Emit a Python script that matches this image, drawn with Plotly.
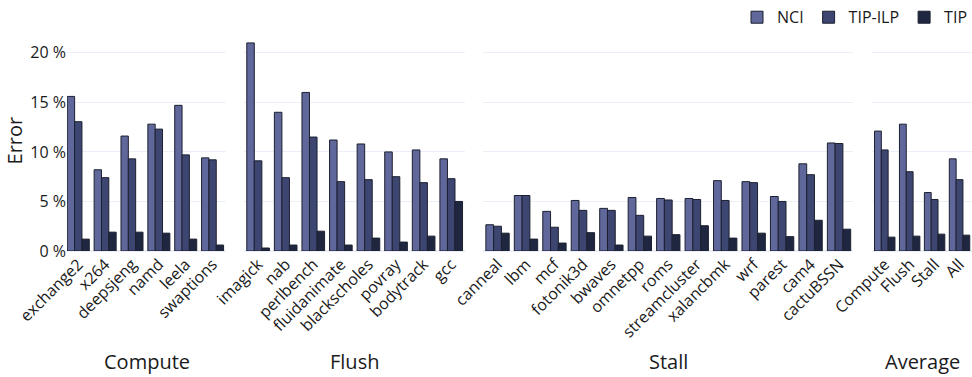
import plotly.graph_objects as go

# Benchmarks per group
compute_labels = ["exchange2", "x264", "deepsjeng", "namd", "leela", "swaptions"]
compute_nci = [15.6, 8.2, 11.6, 12.8, 14.7, 9.4]
compute_ilp = [13.05, 7.4, 9.3, 12.3, 9.7, 9.2]
compute_tip = [1.2, 1.9, 1.9, 1.8, 1.2, 0.6]

flush_labels = ["imagick", "nab", "perlbench", "fluidanimate", "blackscholes",
                "povray", "bodytrack", "gcc"]
flush_nci = [21.0, 14.0, 16.0, 11.2, 10.8, 10.0, 10.2, 9.3]
flush_ilp = [9.1, 7.4, 11.5, 7.0, 7.2, 7.5, 6.9, 7.3]
flush_tip = [0.3, 0.6, 2.0, 0.6, 1.3, 0.9, 1.5, 5.0]

stall_labels = ["canneal", "lbm", "mcf", "fotonik3d", "bwaves", "omnetpp", "roms",
                "streamcluster", "xalancbmk", "wrf", "parest", "cam4", "cactuBSSN"]
stall_nci = [2.65, 5.6, 4.0, 5.1, 4.3, 5.4, 5.3, 5.3, 7.1, 7.0, 5.5, 8.8, 10.9]
stall_ilp = [2.5, 5.6, 2.4, 4.1, 4.1, 3.6, 5.15, 5.2, 5.1, 6.9, 5.0, 7.7, 10.85]
stall_tip = [1.8, 1.2, 0.8, 1.85, 0.6, 1.5, 1.65, 2.55, 1.3, 1.8, 1.45, 3.1, 2.2]

avg_labels = ["Compute", "Flush", "Stall", "All"]
avg_nci = [12.1, 12.8, 5.9, 9.3]
avg_ilp = [10.2, 8.0, 5.2, 7.2]
avg_tip = [1.4, 1.5, 1.7, 1.6]

group_names = ["Compute", "Flush", "Stall", "Average"]
series_names = ["NCI", "TIP-ILP", "TIP"]
series_colors = ["#60679a", "#3d4571", "#1f2640"]

groups = [
    (compute_labels, [compute_nci, compute_ilp, compute_tip]),
    (flush_labels, [flush_nci, flush_ilp, flush_tip]),
    (stall_labels, [stall_nci, stall_ilp, stall_tip]),
    (avg_labels, [avg_nci, avg_ilp, avg_tip]),
]

domains = [[0.0, 0.1757], [0.1959, 0.4398], [0.46, 0.8688], [0.8898, 1.0]]

FONT = "Open Sans"
TEXT = "#1a1a1a"

fig = go.Figure()
for gi, (labels, series) in enumerate(groups):
    xa = "x" if gi == 0 else f"x{gi + 1}"
    ya = "y" if gi == 0 else f"y{gi + 1}"
    for si, vals in enumerate(series):
        fig.add_trace(go.Bar(
            x=labels, y=vals, name=series_names[si],
            legendgroup=series_names[si], showlegend=(gi == 0),
            marker=dict(color=series_colors[si],
                        line=dict(color="#1c2030", width=1)),
            xaxis=xa, yaxis=ya,
        ))

layout = dict(
    template="plotly_white",
    width=972, height=377,
    margin=dict(l=67, r=0, t=30, b=126),
    barmode="group", bargap=0.18, bargroupgap=0,
    font=dict(family=FONT, size=16, color=TEXT),
    legend=dict(orientation="h", x=1, xanchor="right", y=1.072, yanchor="middle",
                font=dict(size=16), traceorder="normal"),
    showlegend=True,
)

for gi, (labels, _) in enumerate(groups):
    n = len(labels)
    xkey = "xaxis" if gi == 0 else f"xaxis{gi + 1}"
    ykey = "yaxis" if gi == 0 else f"yaxis{gi + 1}"
    ya = "y" if gi == 0 else f"y{gi + 1}"
    xa = "x" if gi == 0 else f"x{gi + 1}"
    lo = -0.42 if gi == 0 else -0.5
    layout[xkey] = dict(domain=domains[gi], anchor=ya, type="category",
                        range=[lo, n - 0.5], tickangle=-45,
                        tickfont=dict(size=16, color=TEXT), showgrid=False)
    layout[ykey] = dict(anchor=xa, range=[0, 22], tick0=0, dtick=5,
                        ticksuffix=" %", showticklabels=(gi == 0),
                        tickfont=dict(size=16, color=TEXT),
                        gridcolor="#ebf0f8", zeroline=True,
                        zerolinecolor="#ebf0f8", zerolinewidth=2)

fig.update_layout(**layout)

for gi, name in enumerate(group_names):
    xa = "x" if gi == 0 else f"x{gi + 1}"
    fig.add_annotation(text=name, xref=f"{xa} domain", x=0.5, yref="paper",
                       y=-0.507, xanchor="center", yanchor="middle",
                       showarrow=False, font=dict(size=20, color=TEXT))

fig.add_annotation(text="Error", xref="paper", x=-0.0575, yref="paper", y=0.507,
                   xanchor="center", yanchor="middle", textangle=-90,
                   showarrow=False, font=dict(size=20, color=TEXT))

fig.write_html("out.html")
